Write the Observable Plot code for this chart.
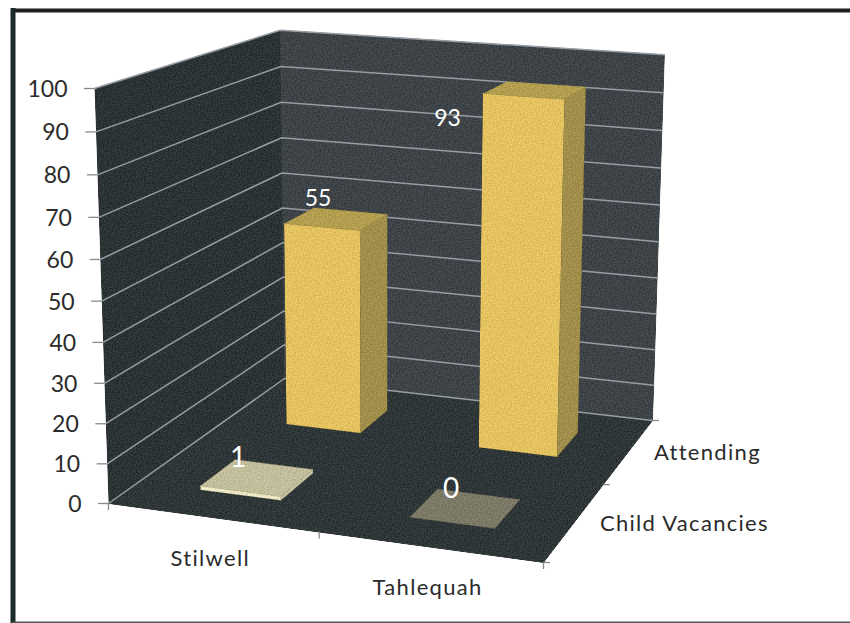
<!DOCTYPE html>
<html>
<head>
<meta charset="utf-8">
<script src="https://cdn.jsdelivr.net/npm/d3@7"></script>
<script src="https://cdn.jsdelivr.net/npm/@observablehq/plot@0.6"></script>
<style>
html,body{margin:0;padding:0;background:#fff;overflow:hidden}
svg{display:block}
#defs{position:absolute;width:0;height:0}
</style>
</head>
<body>
<svg id="defs" width="0" height="0">
  <filter id="grain" x="0" y="0" width="100%" height="100%" color-interpolation-filters="sRGB">
    <feTurbulence type="fractalNoise" baseFrequency="0.75" numOctaves="2" seed="3" result="n"/>
    <feColorMatrix in="n" type="matrix" values="1 0 0 0 0  1 0 0 0 0  1 0 0 0 0  0 0 0 0 1" result="g"/>
    <feComposite in="SourceGraphic" in2="g" operator="arithmetic" k1="0" k2="1" k3="0.22" k4="-0.11" result="c"/>
    <feComposite in="c" in2="SourceGraphic" operator="in" result="d"/>
    <feGaussianBlur in="d" stdDeviation="0.35"/>
  </filter>
</svg>
<div id="chart"></div>
<script>
// Data
const categories = ["Stilwell", "Tahlequah"];
const seriesNames = ["Child Vacancies", "Attending"];
const childVacancies = [1, 0];
const attending = [55, 93];
const valueTicks = [0, 10, 20, 30, 40, 50, 60, 70, 80, 90, 100];

// Camera: perspective projection of the chart box (u = category axis, v = series axis, h = value)
const g = -0.0606, k = 0.2, s = -0.000483;
const A = [108, 503], D = [543, 562], B = [284, 378], V = [384, 8680];
const a1 = D[0] * (1 + g) - A[0], a2 = B[0] * (1 + k) - A[0];
const b1 = D[1] * (1 + g) - A[1], b2 = B[1] * (1 + k) - A[1];
function project(u, v, h = 0) {
  const X = A[0] + a1 * u + a2 * v, Y = A[1] + b1 * u + b2 * v, W = 1 + g * u + k * v;
  const t = s * h;
  return [(X + t * V[0]) / (W + t), (Y + t * V[1]) / (W + t)];
}

// Faces
const faces = [];
function face(id, fill, corners) {
  corners.forEach(c => {
    const [x, y] = project(...c);
    faces.push({id, fill, x, y});
  });
}
const maxV = d3.max(valueTicks);
face("floor", "#2f3637", [[0,0,0],[1,0,0],[1,1,0],[0,1,0]]);
face("left", "#2c3335", [[0,0,0],[0,1,0],[0,1,maxV],[0,0,maxV]]);
face("back", "#3d4346", [[0,1,0],[1,1,0],[1,1,maxV],[0,1,maxV]]);

const halfU = 0.098, halfVFront = 0.1, halfVBack = 0.09;
function bar(id, i, j, value, colors) {
  const uc = (i + 0.5) / categories.length, vc = (j + 0.5) / seriesNames.length;
  const u1 = uc - halfU, u2 = uc + halfU, v1 = vc - halfVFront, v2 = vc + halfVBack;
  if (value > 0) {
    face(id + "f", colors.front, [[u1,v1,0],[u2,v1,0],[u2,v1,value],[u1,v1,value]]);
    face(id + "s", colors.side, [[u2,v1,0],[u2,v2,0],[u2,v2,value],[u2,v1,value]]);
  }
  face(id + "t", colors.top, [[u1,v1,value],[u2,v1,value],[u2,v2,value],[u1,v2,value]]);
}
const attendColors = {front: "#e4c260", side: "#a18e4b", top: "#b39e50"};
attending.forEach((val, i) => bar("a" + i, i, 1, val, attendColors));
bar("c0", 0, 0, childVacancies[0], {front: "#ece8c4", side: "#c7c3a0", top: "#c2be9b"});
bar("c1", 1, 0, childVacancies[1], {top: "#7c7a66"});

// Gridlines on the walls
const grid = [];
valueTicks.forEach(h => {
  [[0,0],[0,1],[1,1]].forEach(([u, v]) => {
    const [x, y] = project(u, v, h);
    grid.push({id: h, x, y});
  });
});

// Ticks
const tickLen = 10;
const valueTickMarks = valueTicks.map(h => {
  const [x, y] = project(0, 0, h);
  return {x1: x - tickLen, x2: x, y, label: String(h)};
});
const uTicks = [0, 0.5, 1].map(u => {
  const [x, y] = project(u, 0, 0);
  return {x, y1: y, y2: y + 7};
});
const vTicks = [0, 0.5, 1].map(v => {
  const [x, y] = project(1, v, 0);
  return {x1: x, x2: x + 7, y};
});

// Labels
const catLabels = categories.map((name, i) => {
  const [x, y] = project((i + 0.5) / categories.length, 0, 0);
  return {name, x: x - 2, y: y + 41};
});
const serLabels = seriesNames.map((name, j) => {
  const [x, y] = project(1, (j + 0.5) / seriesNames.length, 0);
  return {name, x: x + 25, y: y + 2};
});
const labelNudge = {attending: [[-19, -20], [-88, 29]], child: [[-20, -19], [-15, -19]]};
const valLabels = [];
attending.forEach((val, i) => {
  const [x, y] = project((i + 0.5) / 2, 0.75, val);
  valLabels.push({t: String(val), x: x + labelNudge.attending[i][0], y: y + labelNudge.attending[i][1], big: false});
});
childVacancies.forEach((val, i) => {
  const [x, y] = project((i + 0.5) / 2, 0.25, val);
  valLabels.push({t: String(val), x: x + labelNudge.child[i][0], y: y + labelNudge.child[i][1], big: true});
});

const font = "Lato, Carlito, sans-serif";
const ink = "#2b2b2b";
const walls = ["floor", "left", "back"];
const plot = Plot.plot({
  width: 850, height: 623,
  marginTop: 10, marginLeft: 12.5, marginRight: -5, marginBottom: 1,
  x: {type: "linear", domain: [0, 850], range: [0, 850], axis: null},
  y: {type: "linear", domain: [0, 623], range: [0, 623], axis: null},
  style: {background: "#fff", fontFamily: font},
  marks: [
    Plot.frame({anchor: "top", stroke: "#1c2020", strokeWidth: 4}),
    Plot.frame({anchor: "left", stroke: "#1c2a2a", strokeWidth: 5}),
    Plot.frame({anchor: "bottom", stroke: "#555", strokeWidth: 2}),
    Plot.line(faces.filter(f => walls.includes(f.id)), {x: "x", y: "y", z: "id", fill: "fill", stroke: "fill", strokeWidth: 1, imageFilter: "url(#grain)"}),
    Plot.line(grid, {x: "x", y: "y", z: "id", stroke: "#979da3", strokeWidth: 1.5}),
    Plot.line(faces.filter(f => !walls.includes(f.id)), {x: "x", y: "y", z: "id", fill: "fill", stroke: "fill", strokeWidth: 0.6, imageFilter: "url(#grain)"}),
    Plot.ruleY(valueTickMarks, {y: "y", x1: "x1", x2: "x2", stroke: "#8a8a8a", strokeWidth: 1.3}),
    Plot.ruleX(uTicks, {x: "x", y1: "y1", y2: "y2", stroke: "#8a8a8a", strokeWidth: 1.3}),
    Plot.ruleY(vTicks, {y: "y", x1: "x1", x2: "x2", stroke: "#8a8a8a", strokeWidth: 1.3}),
    Plot.text(valueTickMarks, {x: "x1", y: "y", text: "label", textAnchor: "end", dx: -17, dy: 1, fontSize: 23, fill: ink}),
    Plot.text(catLabels, {x: "x", y: "y", text: "name", fontSize: 22, fill: ink, style: "letter-spacing:1.3px"}),
    Plot.text(serLabels, {x: "x", y: "y", text: "name", textAnchor: "start", fontSize: 22, fill: ink}),
    Plot.text(valLabels.filter(d => !d.big), {x: "x", y: "y", text: "t", fontSize: 23, fill: "#fff"}),
    Plot.text(valLabels.filter(d => d.big), {x: "x", y: "y", text: "t", fontSize: 28, fill: "#fff"})
  ]
});
plot.querySelectorAll("text").forEach(t => {
  if (/[A-Za-z]/.test(t.textContent)) t.style.letterSpacing = "1.3px";
});
document.getElementById("chart").appendChild(plot);
</script>
</body>
</html>
